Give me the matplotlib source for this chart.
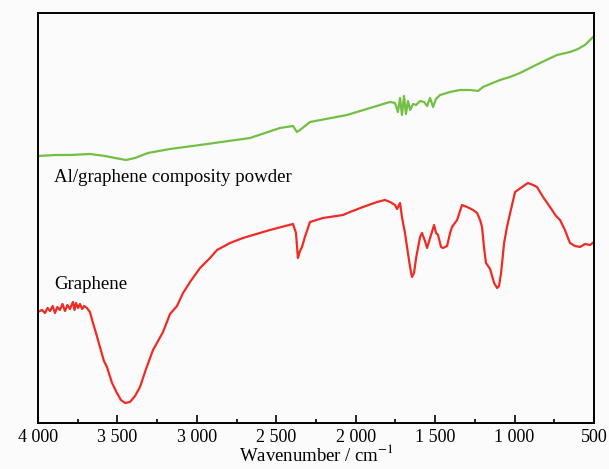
import numpy as np
import matplotlib
matplotlib.use("Agg")
import matplotlib.pyplot as plt
from matplotlib.ticker import MultipleLocator, FuncFormatter

plt.rcParams['font.family'] = ['Liberation Serif', 'DejaVu Serif']
plt.rcParams['mathtext.fontset'] = 'stix'

# Al/graphene composite powder (wavenumber, arbitrary transmittance)
comp_wn = [4000, 3893, 3799, 3673, 3578, 3515, 3446, 3389, 3308, 3169, 2980, 2665,
           2477, 2395, 2370, 2351, 2288, 2055, 1847, 1784, 1753, 1734, 1721, 1709,
           1696, 1684, 1671, 1658, 1639, 1620, 1595, 1570, 1551, 1532, 1513, 1495,
           1469, 1406, 1343, 1280, 1230, 1199, 1092, 1029, 966, 840, 733, 651, 601,
           557, 506]
comp_t = [267, 268, 268, 269, 267, 265, 263, 265, 270, 274, 278, 285,
          295, 297, 291, 293, 301, 308, 318, 321, 320, 311, 325, 308,
          327, 309, 322, 313, 319, 318, 322, 321, 317, 325, 316, 324,
          328, 331, 333, 333, 332, 336, 343, 346, 350, 360, 368, 371, 374,
          378, 386]

# Graphene
gr_wn = [4000, 3975, 3956, 3940, 3924, 3908, 3893, 3878, 3862, 3846, 3830, 3815,
         3799, 3780, 3770, 3761, 3748, 3736, 3722, 3710, 3692,
         3673, 3654, 3635, 3610, 3585, 3566, 3534, 3503, 3478, 3452, 3421, 3389,
         3358, 3320, 3276, 3213, 3169, 3125, 3087, 3043, 2980, 2917, 2873, 2791,
         2710, 2540, 2395, 2376, 2364, 2351, 2338, 2320, 2288, 2206, 2080, 2036,
         1954, 1866, 1816, 1784, 1753, 1740, 1721, 1709, 1690, 1677, 1658, 1646,
         1633, 1620, 1595, 1583, 1564, 1551, 1532, 1520, 1507, 1494, 1482, 1463,
         1450, 1425, 1406, 1394, 1362, 1331, 1299, 1261, 1236, 1217, 1205, 1192,
         1180, 1154, 1129, 1110, 1098, 1085, 1066, 1048, 1022, 997, 953, 916, 884,
         859, 821, 777, 739, 714, 683, 664, 651, 620, 588, 557, 525, 500]
gr_t = [111, 113, 110, 115, 112, 117, 110, 116, 113, 119, 112, 118,
        114, 121, 113, 120, 115, 119, 114, 117, 115,
        111, 100, 90, 76, 62, 56, 40, 30, 23, 20, 21, 27,
        36, 54, 73, 91, 109, 117, 130, 141, 155, 165, 173, 180,
        185, 193, 199, 190, 165, 172, 176, 186, 201, 205, 208, 211,
        216, 221, 223, 221, 218, 214, 220, 206, 190, 176, 156, 146,
        150, 165, 186, 190, 182, 175, 185, 191, 198, 190, 188, 176,
        175, 177, 190, 196, 203, 218, 216, 213, 210, 203, 196, 175,
        160, 154, 140, 135, 137, 150, 180, 196, 214, 231, 236, 240, 238,
        236, 226, 216, 207, 203, 193, 185, 180, 177, 176, 179, 178, 181]

fig = plt.figure(figsize=(6.09, 4.69), dpi=100, facecolor='#fbfbfb')
ax = fig.add_axes([0.0624, 0.0981, 0.9130, 0.8742])
ax.set_facecolor('#fbfbfb')

ax.plot(comp_wn, comp_t, color='#72bf44', lw=1.6)
ax.plot(gr_wn, gr_t, color='#ee2b24', lw=1.6)

ax.set_xlim(4000, 500)
ax.set_ylim(0, 410)
ax.set_yticks([])
ax.xaxis.set_major_locator(MultipleLocator(500))
ax.xaxis.set_minor_locator(MultipleLocator(250))

def fmt(v, pos):
    v = int(round(v))
    if v >= 1000:
        return f"{v // 1000} {v % 1000:03d}"
    return str(v)

ax.xaxis.set_major_formatter(FuncFormatter(fmt))
ax.tick_params(axis='x', which='major', direction='in', length=6, width=1.2,
               labelsize=13, pad=4)
ax.tick_params(axis='x', which='minor', direction='in', length=3, width=1.2)
for s in ax.spines.values():
    s.set_linewidth(1.4)

ax.set_xlabel('Wavenumber / cm$^{-1}$', fontsize=13.5, labelpad=-1)

ax.text(0.029, 0.588, 'Al/graphene composity powder', transform=ax.transAxes,
        fontsize=13.6, ha='left', va='baseline')
ax.text(0.029, 0.327, 'Graphene', transform=ax.transAxes,
        fontsize=13.6, ha='left', va='baseline')

fig.savefig('out.png', dpi=100, facecolor=fig.get_facecolor())
